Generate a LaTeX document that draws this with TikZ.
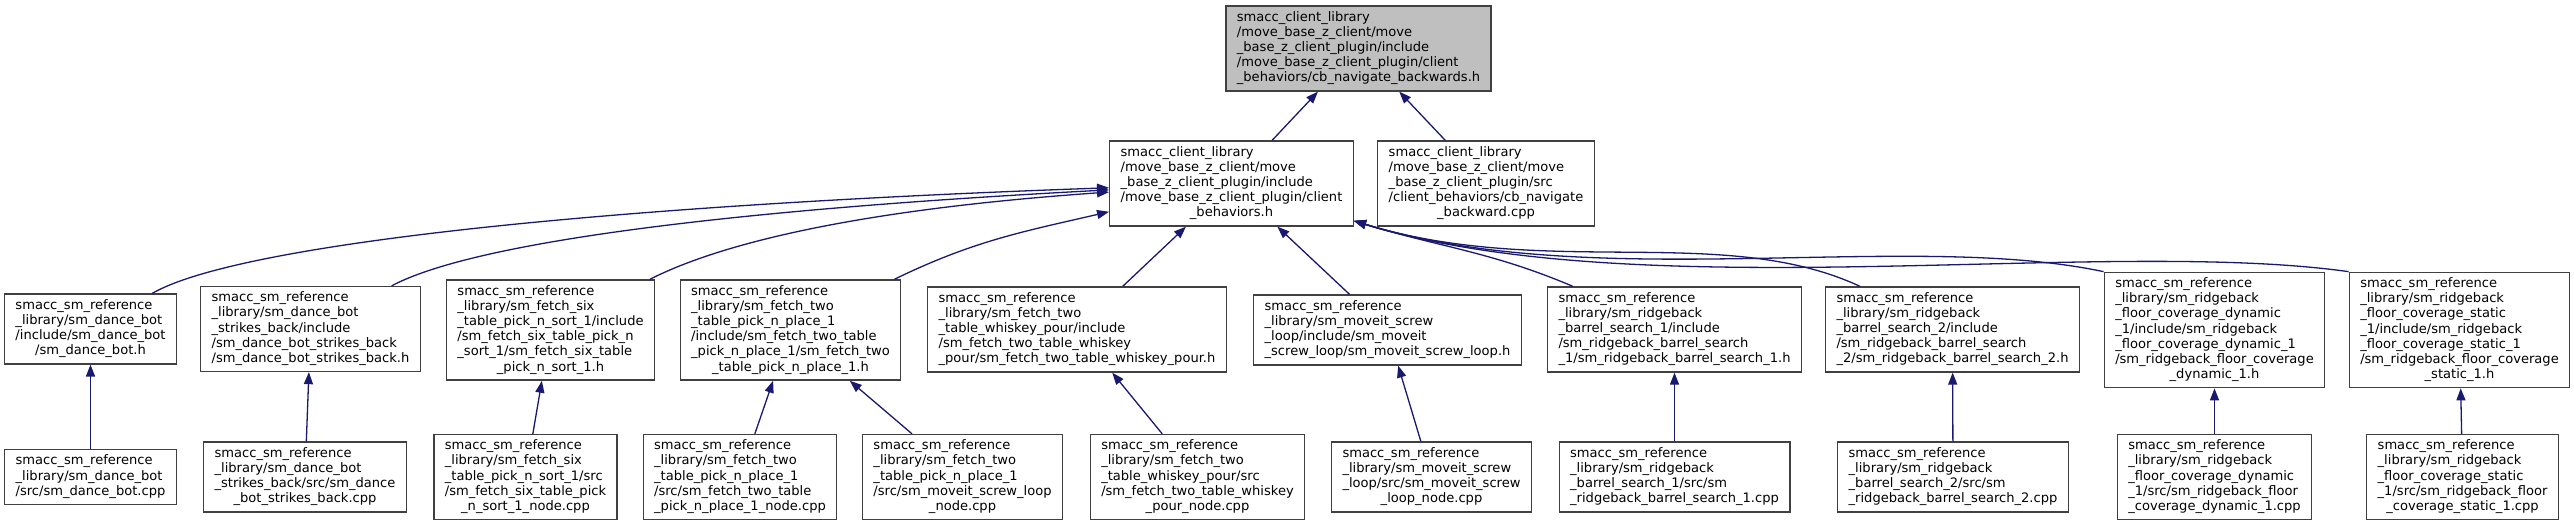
\documentclass[tikz,border=0pt]{standalone}
\usepackage{fontspec}
\setmainfont{DejaVu Sans}
\usepackage{tikz}
\usetikzlibrary{arrows.meta}
\definecolor{edgeblue}{RGB}{25,25,112}
\definecolor{boxline}{RGB}{64,64,64}
\definecolor{curfill}{RGB}{191,191,191}
% lines left aligned, last line centred (as doxygen does)
\newcommand{\flines}[2]{\begin{tabular}{@{}l@{}}#1\\\multicolumn{1}{@{}c@{}}{#2}\end{tabular}}

\begin{document}
\begin{tikzpicture}[x=1pt, y=1pt,
  file/.style={draw=boxline, fill=white, line width=1.3pt, inner xsep=11pt,
    inner ysep=4.5pt, font=\fontsize{13.07}{15.2}\selectfont},
  current/.style={file, fill=curfill},
  dep/.style={draw=edgeblue, line width=1.3pt, -{Triangle[length=12pt, width=9pt]}}]
  \useasboundingbox (0,0) rectangle (2574,-525);
  % Included header
  \node[current] (top) at (1358.5,-48.5) {\flines{smacc\_client\_library\\/move\_base\_z\_client/move\\\_base\_z\_client\_plugin/include\\/move\_base\_z\_client\_plugin/client}{\_behaviors/cb\_navigate\_backwards.h}};
  % Direct includers
  \node[file] (cbh) at (1231.5,-183.5) {\flines{smacc\_client\_library\\/move\_base\_z\_client/move\\\_base\_z\_client\_plugin/include\\/move\_base\_z\_client\_plugin/client}{\_behaviors.h}};
  \node[file] (cbcpp) at (1486,-183.5) {\flines{smacc\_client\_library\\/move\_base\_z\_client/move\\\_base\_z\_client\_plugin/src\\/client\_behaviors/cb\_navigate}{\_backward.cpp}};
  % State machine headers
  \node[file] (danceh) at (90.5,-329) {\flines{smacc\_sm\_reference\\\_library/sm\_dance\_bot\\/include/sm\_dance\_bot}{/sm\_dance\_bot.h}};
  \node[file] (strikesh) at (310.5,-329) {\flines{smacc\_sm\_reference\\\_library/sm\_dance\_bot\\\_strikes\_back/include\\/sm\_dance\_bot\_strikes\_back}{/sm\_dance\_bot\_strikes\_back.h}};
  \node[file] (sixh) at (550.5,-330) {\flines{smacc\_sm\_reference\\\_library/sm\_fetch\_six\\\_table\_pick\_n\_sort\_1/include\\/sm\_fetch\_six\_table\_pick\_n\\\_sort\_1/sm\_fetch\_six\_table}{\_pick\_n\_sort\_1.h}};
  \node[file] (pickh) at (790.5,-330) {\flines{smacc\_sm\_reference\\\_library/sm\_fetch\_two\\\_table\_pick\_n\_place\_1\\/include/sm\_fetch\_two\_table\\\_pick\_n\_place\_1/sm\_fetch\_two}{\_table\_pick\_n\_place\_1.h}};
  \node[file] (whiskeyh) at (1077,-329.5) {\flines{smacc\_sm\_reference\\\_library/sm\_fetch\_two\\\_table\_whiskey\_pour/include\\/sm\_fetch\_two\_table\_whiskey}{\_pour/sm\_fetch\_two\_table\_whiskey\_pour.h}};
  \node[file] (moveith) at (1387.5,-330) {\flines{smacc\_sm\_reference\\\_library/sm\_moveit\_screw\\\_loop/include/sm\_moveit}{\_screw\_loop/sm\_moveit\_screw\_loop.h}};
  \node[file] (barrela) at (1674.5,-329.5) {\flines{smacc\_sm\_reference\\\_library/sm\_ridgeback\\\_barrel\_search\_1/include\\/sm\_ridgeback\_barrel\_search}{\_1/sm\_ridgeback\_barrel\_search\_1.h}};
  \node[file] (barrelb) at (1952.5,-329.5) {\flines{smacc\_sm\_reference\\\_library/sm\_ridgeback\\\_barrel\_search\_2/include\\/sm\_ridgeback\_barrel\_search}{\_2/sm\_ridgeback\_barrel\_search\_2.h}};
  \node[file] (dynh) at (2214.5,-330) {\flines{smacc\_sm\_reference\\\_library/sm\_ridgeback\\\_floor\_coverage\_dynamic\\\_1/include/sm\_ridgeback\\\_floor\_coverage\_dynamic\_1\\/sm\_ridgeback\_floor\_coverage}{\_dynamic\_1.h}};
  \node[file] (stath) at (2459.5,-330) {\flines{smacc\_sm\_reference\\\_library/sm\_ridgeback\\\_floor\_coverage\_static\\\_1/include/sm\_ridgeback\\\_floor\_coverage\_static\_1\\/sm\_ridgeback\_floor\_coverage}{\_static\_1.h}};
  % Sources
  \node[file] (dancecpp) at (90.5,-477) {\flines{smacc\_sm\_reference\\\_library/sm\_dance\_bot}{/src/sm\_dance\_bot.cpp}};
  \node[file] (strikescpp) at (305,-477) {\flines{smacc\_sm\_reference\\\_library/sm\_dance\_bot\\\_strikes\_back/src/sm\_dance}{\_bot\_strikes\_back.cpp}};
  \node[file] (sixcpp) at (525.5,-477) {\flines{smacc\_sm\_reference\\\_library/sm\_fetch\_six\\\_table\_pick\_n\_sort\_1/src\\/sm\_fetch\_six\_table\_pick}{\_n\_sort\_1\_node.cpp}};
  \node[file] (pickcpp) at (740,-477) {\flines{smacc\_sm\_reference\\\_library/sm\_fetch\_two\\\_table\_pick\_n\_place\_1\\/src/sm\_fetch\_two\_table}{\_pick\_n\_place\_1\_node.cpp}};
  \node[file] (loopcpp) at (962.5,-477) {\flines{smacc\_sm\_reference\\\_library/sm\_fetch\_two\\\_table\_pick\_n\_place\_1\\/src/sm\_moveit\_screw\_loop}{\_node.cpp}};
  \node[file] (whiskeycpp) at (1197.5,-477) {\flines{smacc\_sm\_reference\\\_library/sm\_fetch\_two\\\_table\_whiskey\_pour/src\\/sm\_fetch\_two\_table\_whiskey}{\_pour\_node.cpp}};
  \node[file] (moveitcpp) at (1431.5,-477) {\flines{smacc\_sm\_reference\\\_library/sm\_moveit\_screw\\\_loop/src/sm\_moveit\_screw}{\_loop\_node.cpp}};
  \node[file] (barrelacpp) at (1674.5,-477) {\flines{smacc\_sm\_reference\\\_library/sm\_ridgeback\\\_barrel\_search\_1/src/sm}{\_ridgeback\_barrel\_search\_1.cpp}};
  \node[file] (barrelbcpp) at (1953,-477) {\flines{smacc\_sm\_reference\\\_library/sm\_ridgeback\\\_barrel\_search\_2/src/sm}{\_ridgeback\_barrel\_search\_2.cpp}};
  \node[file] (dyncpp) at (2214.5,-477) {\flines{smacc\_sm\_reference\\\_library/sm\_ridgeback\\\_floor\_coverage\_dynamic\\\_1/src/sm\_ridgeback\_floor}{\_coverage\_dynamic\_1.cpp}};
  \node[file] (statcpp) at (2462.5,-477) {\flines{smacc\_sm\_reference\\\_library/sm\_ridgeback\\\_floor\_coverage\_static\\\_1/src/sm\_ridgeback\_floor}{\_coverage\_static\_1.cpp}};
  % Include edges
  \draw[dep] (cbh) -- (top);
  \draw[dep] (cbcpp) -- (top);
  \draw[dep] (danceh) to[out=30, in=182, out distance=100pt, in distance=500pt] (cbh);
  \draw[dep] (strikesh) to[out=28, in=183, out distance=100pt, in distance=350pt] (cbh);
  \draw[dep] (sixh) to[out=27, in=184, out distance=80pt, in distance=250pt] (cbh);
  \draw[dep] (pickh) to[out=26, in=193] (cbh);
  \draw[dep] (whiskeyh) -- (cbh);
  \draw[dep] (moveith) -- (cbh);
  \draw[dep] (barrela) to[out=157, in=-17] (cbh);
  \draw[dep] (barrelb) to[out=155, in=-17, out distance=150pt, in distance=200pt] (cbh);
  \draw[dep] (dynh.north west) to[out=168, in=-17, out distance=200pt, in distance=250pt] (cbh);
  \draw[dep] (stath.north west) to[out=172, in=-17, out distance=250pt, in distance=300pt] (cbh);
  \foreach \src/\hdr in {dancecpp/danceh, strikescpp/strikesh, sixcpp/sixh, pickcpp/pickh,
      loopcpp/pickh, whiskeycpp/whiskeyh, moveitcpp/moveith, barrelacpp/barrela,
      barrelbcpp/barrelb, dyncpp/dynh, statcpp/stath}
    \draw[dep] (\src) -- (\hdr);
\end{tikzpicture}
\end{document}
